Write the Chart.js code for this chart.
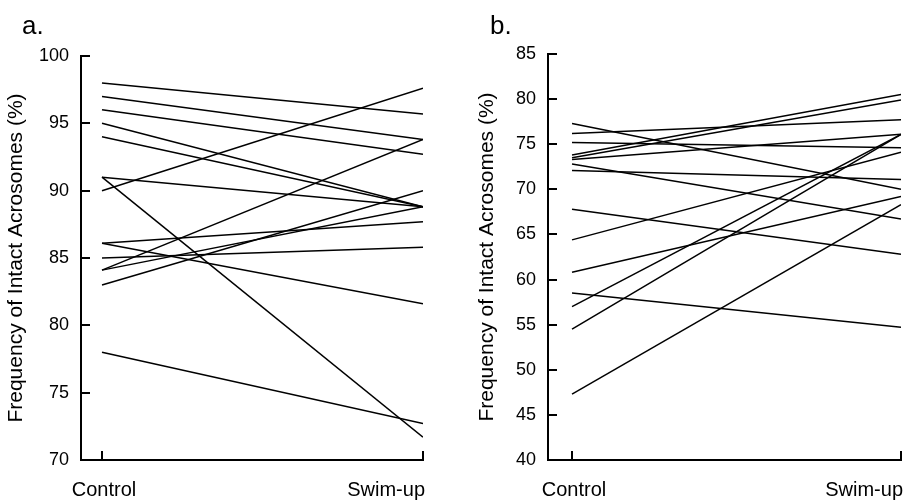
<!DOCTYPE html>
<html><head><meta charset="utf-8">
<script src="https://cdn.jsdelivr.net/npm/chart.js@4.4.1/dist/chart.umd.min.js"></script>
<style>
html,body{margin:0;padding:0;background:#fff;}
#wrap{position:relative;width:919px;height:500px;overflow:hidden;}
.c{position:absolute;top:0;height:500px;}
</style></head><body>
<div id="wrap">
<div class="c" style="left:0;width:460px"><canvas id="ca" width="460" height="500"></canvas></div>
<div class="c" style="left:460px;width:459px"><canvas id="cb" width="459" height="500"></canvas></div>
</div>
<script>
const categories = ['Control', 'Swim-up'];
const aControl = [98, 97, 96, 95, 94, 91, 91, 90, 86.1, 86.1, 85, 84.1, 84.1, 83, 78];
const aSwimUp  = [95.7, 93.8, 92.7, 88.8, 88.8, 88.8, 71.7, 97.6, 87.7, 81.6, 85.8, 93.8, 88.8, 90, 72.7];
const bControl = [77.3, 76.2, 75.2, 73.8, 73.5, 73.3, 72.8, 72.1, 67.8, 64.4, 60.8, 58.5, 57.0, 54.5, 47.3];
const bSwimUp  = [70.0, 77.7, 74.6, 80.5, 79.9, 76.1, 66.7, 71.1, 62.8, 74.1, 69.2, 54.7, 76.1, 76.1, 68.3];
const aTicks = [70, 75, 80, 85, 90, 95, 100];
const bTicks = [40, 45, 50, 55, 60, 65, 70, 75, 80, 85];
const yTitle = 'Frequency of Intact Acrosomes (%)';
const panelLabels = ['a.', 'b.'];

const FONT = '"Liberation Sans", Arial, Helvetica, sans-serif';

const decor = {
  id: 'decor',
  afterDraw(chart, args, opts) {
    const {ctx, chartArea, scales: {x, y}} = chart;
    ctx.save();
    ctx.strokeStyle = '#000';
    ctx.lineWidth = 2;
    ctx.beginPath();
    y.ticks.forEach(t => {
      const py = Math.round(y.getPixelForValue(t.value));
      ctx.moveTo(chartArea.left, py);
      ctx.lineTo(chartArea.left + 9, py);
    });
    x.ticks.forEach(t => {
      const px = Math.round(x.getPixelForValue(t.value));
      ctx.moveTo(px, chartArea.bottom);
      ctx.lineTo(px, chartArea.bottom - 9);
    });
    ctx.stroke();
    ctx.fillStyle = '#000';
    ctx.font = '20px ' + FONT;
    ctx.textBaseline = 'alphabetic';
    x.ticks.forEach((t, i) => {
      ctx.textAlign = i === 0 ? 'center' : 'right';
      ctx.fillText(categories[i], x.getPixelForValue(t.value) + 2, chartArea.bottom + 36);
    });
    ctx.textAlign = 'left';
    ctx.font = '26px ' + FONT;
    ctx.fillText(opts.label, opts.lx, 34);
    ctx.restore();
  }
};

function makeChart(id, ctrl, swim, ticks, label, g) {
  const datasets = ctrl.map((v, i) => ({
    data: [{x: 0, y: v}, {x: 1, y: swim[i]}],
    borderColor: '#000',
    borderWidth: 1.5,
    pointRadius: 0,
    fill: false,
    tension: 0
  }));
  return new Chart(document.getElementById(id), {
    type: 'line',
    data: {datasets},
    plugins: [decor],
    options: {
      responsive: false,
      animation: false,
      devicePixelRatio: 1,
      layout: {padding: {left: 0, right: g.right, top: g.top, bottom: 0}},
      plugins: {
        legend: {display: false},
        tooltip: {enabled: false},
        decor: {label: label, lx: g.lx}
      },
      scales: {
        x: {
          type: 'linear',
          min: -g.off, max: 1,
          afterBuildTicks: s => { s.ticks = [{value: 0}, {value: 1}]; },
          afterFit: s => { s.height = g.xh; },
          ticks: {display: false},
          grid: {display: false, drawTicks: false},
          border: {display: true, color: '#000', width: 2}
        },
        y: {
          type: 'linear',
          min: ticks[0], max: ticks[ticks.length - 1],
          afterBuildTicks: s => { s.ticks = ticks.map(v => ({value: v})); },
          afterFit: s => { s.width = g.yw; },
          ticks: {color: '#000', font: {family: FONT, size: 18}, padding: 12},
          grid: {display: false, drawTicks: false},
          border: {display: true, color: '#000', width: 2},
          title: {display: true, text: yTitle, color: '#000', font: {family: FONT, size: 21}, padding: {top: g.tp, bottom: 0}}
        }
      }
    }
  });
}

makeChart('ca', aControl, aSwimUp, aTicks, panelLabels[0], {right: 37, top: 56, xh: 40, yw: 81, off: 0.0654, lx: 22, tp: 4});
makeChart('cb', bControl, bSwimUp, bTicks, panelLabels[1], {right: 18, top: 54, xh: 40, yw: 88, off: 0.073, lx: 30, tp: 15});
</script>
</body></html>
